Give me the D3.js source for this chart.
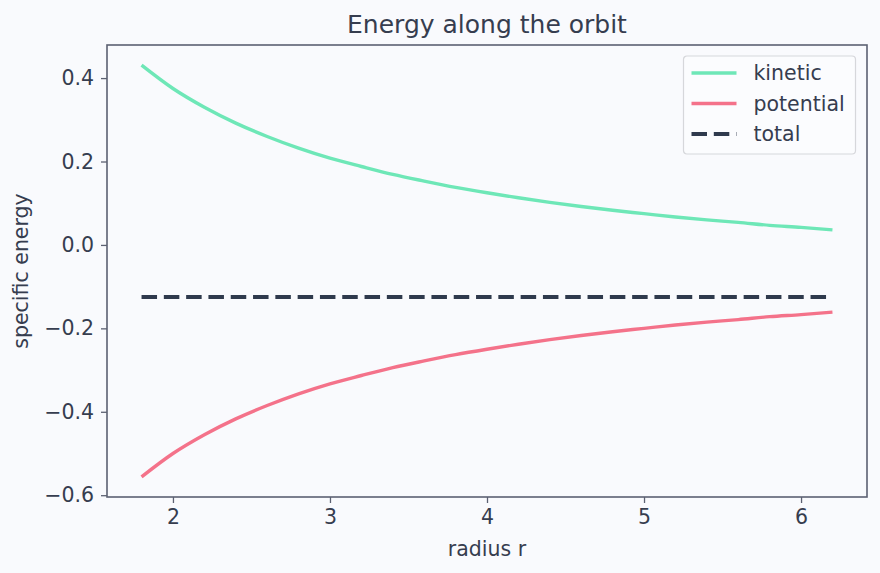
<!DOCTYPE html>
<html>
<head>
<meta charset="utf-8">
<script src="https://cdn.jsdelivr.net/npm/d3@7"></script>
<style>
  html, body { margin: 0; padding: 0; background: #f9fafd; }
  svg { display: block; }
</style>
</head>
<body>
<div id="container"><svg></svg></div>
<script>
let width = 880;
let height = 573;
let fontFamily = "DejaVu Sans";

// radius samples along the orbit
let radius = [1.8, 2.0, 2.2, 2.4, 2.6, 2.8, 3.0, 3.2, 3.4, 3.6, 3.8, 4.0,
              4.2, 4.4, 4.6, 4.8, 5.0, 5.2, 5.4, 5.6, 5.8, 6.0, 6.2];
let kinetic = [0.431, 0.375, 0.330, 0.292, 0.260, 0.232, 0.208, 0.188, 0.169, 0.153, 0.138, 0.125,
               0.113, 0.102, 0.092, 0.083, 0.075, 0.067, 0.060, 0.054, 0.047, 0.042, 0.036];
let potential = [-0.556, -0.500, -0.455, -0.417, -0.385, -0.357, -0.333, -0.313, -0.294, -0.278, -0.263, -0.250,
                 -0.238, -0.227, -0.217, -0.208, -0.200, -0.192, -0.185, -0.179, -0.172, -0.167, -0.161];
let total = [-0.125, -0.125, -0.125, -0.125, -0.125, -0.125, -0.125, -0.125, -0.125, -0.125, -0.125, -0.125,
             -0.125, -0.125, -0.125, -0.125, -0.125, -0.125, -0.125, -0.125, -0.125, -0.125, -0.125];

let xTicks = [2, 3, 4, 5, 6];
let yTicks = [-0.6, -0.4, -0.2, 0.0, 0.2, 0.4];

let seriesNames = ['kinetic', 'potential', 'total'];
let seriesColors = ['#6ee7b7', '#f4728a', '#2f3a4d'];

let textColor = '#363d4f';
let spineColor = '#5c6172';
let labelSize = '20.5px';

function draw_main() {
    let padding = {left: 107, right: 13, top: 45, bottom: 76};
    let svg = d3.select('#container').select('svg')
        .attr('width', width)
        .attr('height', height)
        .style('font-family', fontFamily);

    svg.append('rect')
        .attr('width', width).attr('height', height)
        .attr('fill', '#f9fafd');

    let x = d3.scaleLinear()
        .domain([1.58, 6.42])
        .range([padding.left, width - padding.right]);
    let y = d3.scaleLinear()
        .domain([-0.6043, 0.4793])
        .range([height - padding.bottom, padding.top]);

    // lines
    let series = [kinetic, potential, total];
    let line = d3.line()
        .x((d, i) => x(radius[i]))
        .y(d => y(d))
        .curve(d3.curveMonotoneX);

    series.forEach((s, k) => {
        svg.append('path')
            .datum(s)
            .attr('d', line)
            .attr('fill', 'none')
            .attr('stroke', seriesColors[k])
            .attr('stroke-width', k == 2 ? 4 : 3.4)
            .attr('stroke-dasharray', k == 2 ? '15.5,6.8' : null)
            .attr('stroke-linecap', 'butt');
    });

    // x axis
    let axis_x = d3.axisBottom(x)
        .tickValues(xTicks)
        .tickFormat(d => d)
        .tickSize(6)
        .tickPadding(6);
    let gx = svg.append('g')
        .attr('transform', `translate(0, ${height - padding.bottom})`)
        .call(axis_x);

    // y axis
    let axis_y = d3.axisLeft(y)
        .tickValues(yTicks)
        .tickFormat(d => d3.format('.1f')(d).replace('-', '\u2212'))
        .tickSize(6)
        .tickPadding(7);
    let gy = svg.append('g')
        .attr('transform', `translate(${padding.left}, 0)`)
        .call(axis_y);

    [gx, gy].forEach(g => {
        g.select('.domain').remove();
        g.selectAll('line').attr('stroke', spineColor).attr('stroke-width', 1.3);
        g.selectAll('text')
            .attr('fill', textColor)
            .attr('font-family', fontFamily)
            .attr('font-size', labelSize);
    });

    // frame
    svg.append('rect')
        .attr('x', padding.left)
        .attr('y', padding.top)
        .attr('width', width - padding.left - padding.right)
        .attr('height', height - padding.top - padding.bottom)
        .attr('fill', 'none')
        .attr('stroke', spineColor)
        .attr('stroke-width', 1.6);

    // title
    svg.append('text')
        .attr('x', padding.left + (width - padding.left - padding.right) / 2)
        .attr('y', 33)
        .attr('text-anchor', 'middle')
        .attr('fill', textColor)
        .attr('font-size', '25px')
        .text('Energy along the orbit');

    // axis labels
    svg.append('text')
        .attr('x', padding.left + (width - padding.left - padding.right) / 2)
        .attr('y', 556)
        .attr('text-anchor', 'middle')
        .attr('fill', textColor)
        .attr('font-size', labelSize)
        .text('radius r');

    svg.append('g')
        .attr('transform', `translate(28, ${padding.top + (height - padding.top - padding.bottom) / 2}) rotate(-90)`)
        .append('text')
        .attr('text-anchor', 'middle')
        .attr('fill', textColor)
        .attr('font-size', labelSize)
        .text('specific energy');

    // legend
    let legend = svg.append('g').attr('transform', 'translate(683.5, 56)');
    legend.append('rect')
        .attr('width', 172)
        .attr('height', 98)
        .attr('rx', 3.5)
        .attr('fill', '#fbfcfe')
        .attr('fill-opacity', 0.85)
        .attr('stroke', '#d6d7db')
        .attr('stroke-width', 1.2);
    seriesNames.forEach((name, k) => {
        let ly = 17 + k * 30.5;
        legend.append('line')
            .attr('x1', 8).attr('x2', 53)
            .attr('y1', ly).attr('y2', ly)
            .attr('stroke', seriesColors[k])
            .attr('stroke-width', k == 2 ? 4 : 3.4)
            .attr('stroke-dasharray', k == 2 ? '15.5,6.8' : null);
        legend.append('text')
            .attr('x', 70)
            .attr('y', ly + 7)
            .attr('fill', textColor)
            .attr('font-size', labelSize)
            .text(name);
    });
}

draw_main();
</script>
</body>
</html>
